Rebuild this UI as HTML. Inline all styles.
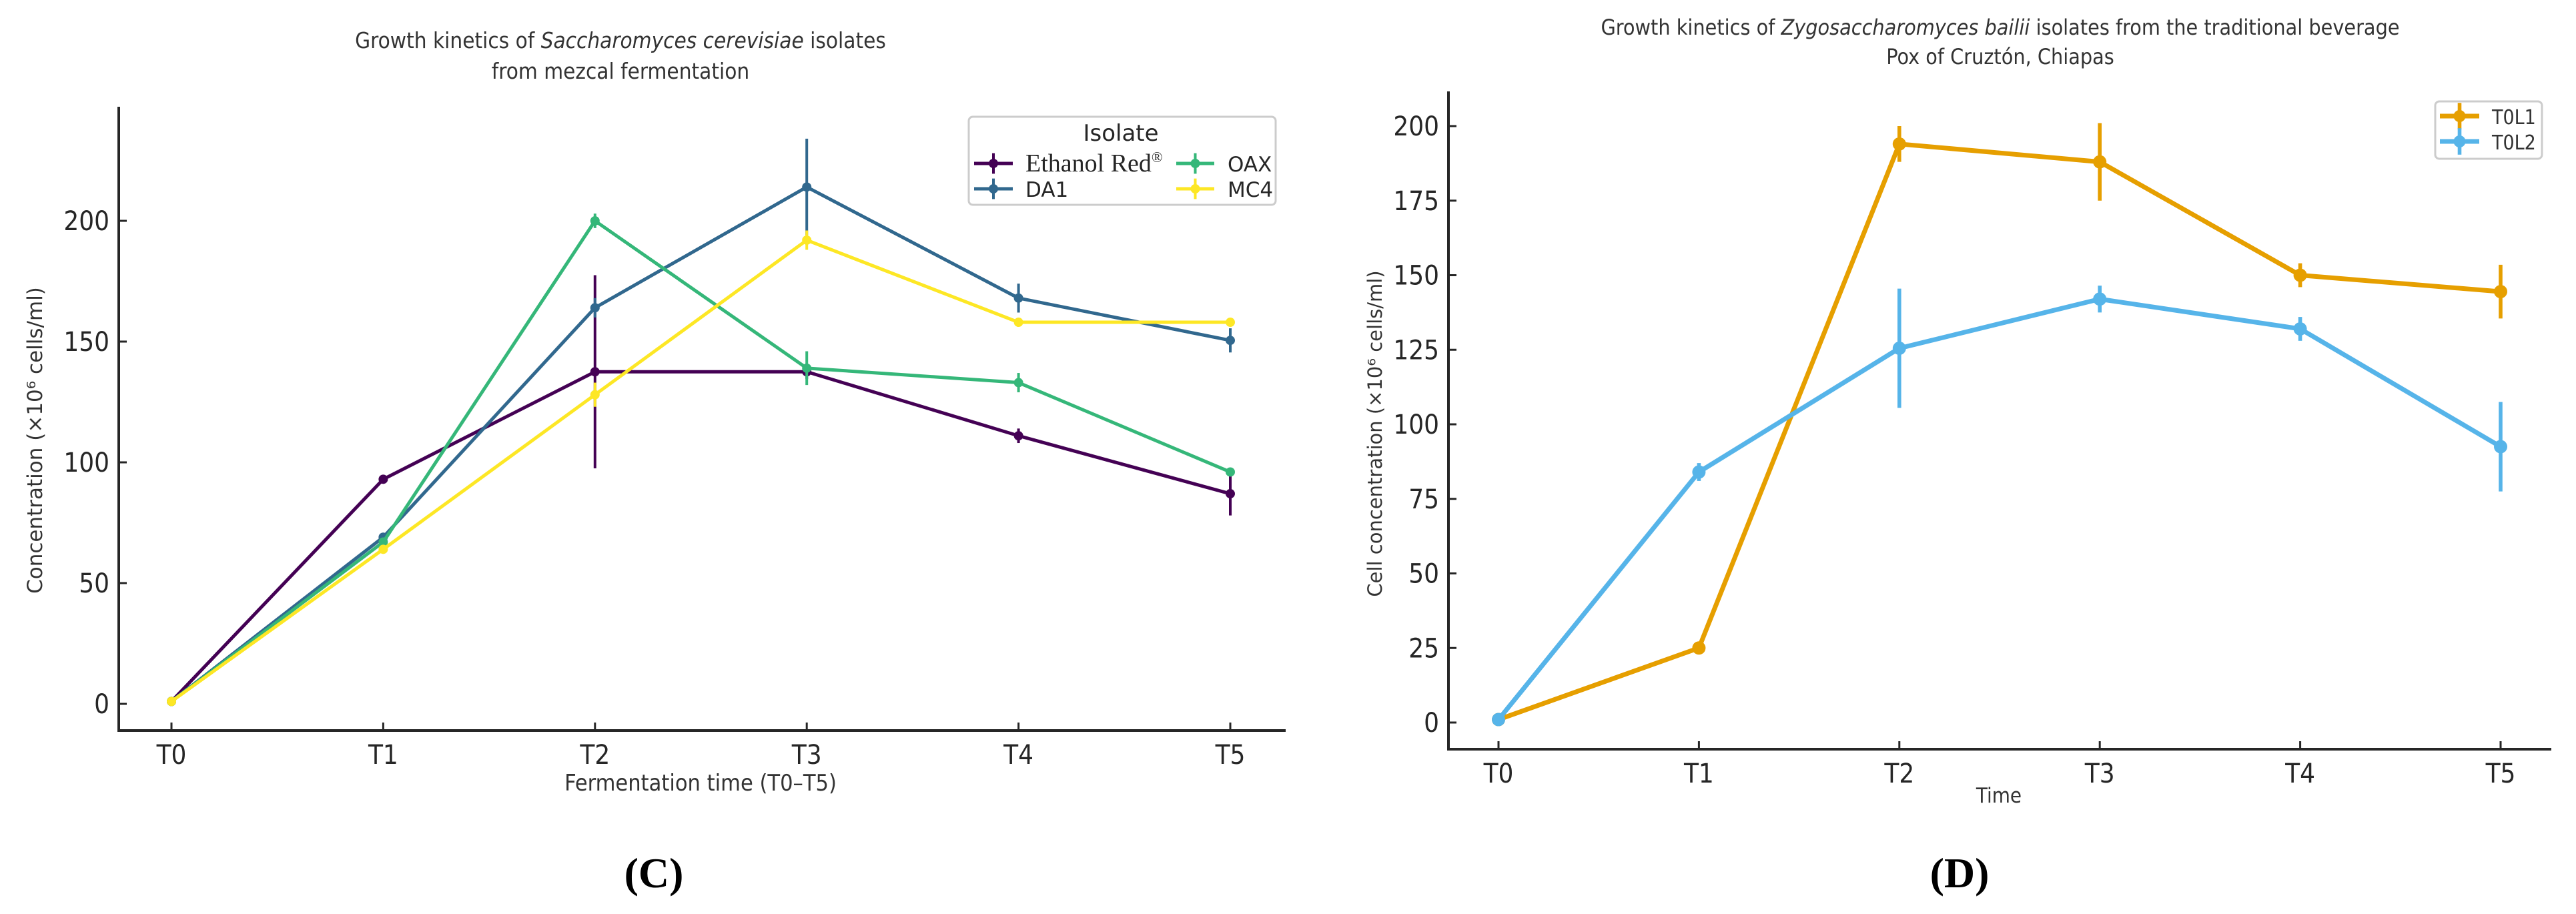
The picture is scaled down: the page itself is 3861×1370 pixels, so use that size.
<!DOCTYPE html>
<html><head><meta charset="utf-8"><style>
html,body{margin:0;padding:0;background:#fff}
svg{display:block;font-family:"DejaVu Sans","Liberation Sans",sans-serif}
.tk{font-family:"DejaVu Sans Condensed","Liberation Sans Narrow","Liberation Sans",sans-serif;font-size:40px;fill:#262626}
.cond{font-family:"DejaVu Sans Condensed","Liberation Sans Narrow","Liberation Sans",sans-serif;fill:#333}
.serif{font-family:"Liberation Serif",serif}
</style></head><body>
<svg id="fig" width="3861" height="1370" viewBox="0 0 3861 1370" xmlns="http://www.w3.org/2000/svg" fill="#262626">
<g id="chartC">
<text class="cond" x="930" y="72" text-anchor="middle" font-size="33">Growth kinetics of <tspan font-style="italic">Saccharomyces cerevisiae</tspan> isolates</text>
<text class="cond" x="930" y="118" text-anchor="middle" font-size="33">from mezcal fermentation</text>
<line x1="178" y1="160" x2="178" y2="1096" stroke="#262626" stroke-width="4"/>
<line x1="176" y1="1095" x2="1927" y2="1095" stroke="#262626" stroke-width="4"/>
<text class="cond" x="1050" y="1185" text-anchor="middle" font-size="34">Fermentation time (T0–T5)</text>
<text transform="translate(63,660) rotate(-90)" text-anchor="middle" font-size="31" fill="#333">Concentration (×10⁶ cells/ml)</text>
<g id="cLegend">
<rect x="1452" y="175" width="460" height="132" rx="6" fill="#fff" stroke="#ccc" stroke-width="3"/>
<text x="1680" y="211" text-anchor="middle" font-size="34">Isolate</text>
</g>
<text class="serif" x="980" y="1330" text-anchor="middle" font-size="64" font-weight="bold" fill="#000">(C)</text>
</g>
<g id="chartD">
<text class="cond" x="2998" y="52" text-anchor="middle" font-size="32">Growth kinetics of <tspan font-style="italic">Zygosaccharomyces bailii</tspan> isolates from the traditional beverage</text>
<text class="cond" x="2998" y="96" text-anchor="middle" font-size="32">Pox of Cruztón, Chiapas</text>
<line x1="2171" y1="137" x2="2171" y2="1124" stroke="#262626" stroke-width="4"/>
<line x1="2169" y1="1123" x2="3824" y2="1123" stroke="#262626" stroke-width="4"/>
<text class="cond" x="2996" y="1203" text-anchor="middle" font-size="31">Time</text>
<text transform="translate(2071,650) rotate(-90)" text-anchor="middle" font-size="29" fill="#333">Cell concentration (×10⁶ cells/ml)</text>
<g id="dLegend">
<rect x="3650" y="152" width="160" height="86" rx="6" fill="#fff" stroke="#ccc" stroke-width="3"/>
</g>
<text class="serif" x="2937" y="1330" text-anchor="middle" font-size="64" font-weight="bold" fill="#000">(D)</text>
</g>
</svg>
<script>
const cCategories = ["T0","T1","T2","T3","T4","T5"];
const cYTicks = [0,50,100,150,200];
const cNames = ["Ethanol Red","DA1","OAX","MC4"];
const ethanolRed = [1,93,137.5,137.5,111,87];
const ethanolRedErr = [0,1.5,40,3,3,9];
const da1 = [1,69,164,214,168,150.5];
const da1Err = [0,1,4,20,6,5];
const oax = [1,67,200,139,133,96];
const oaxErr = [0,1,3,7,4,1];
const mc4 = [1,64,128,192,158,158];
const mc4Err = [0,1,5,4,1,1];

const dCategories = ["T0","T1","T2","T3","T4","T5"];
const dYTicks = [0,25,50,75,100,125,150,175,200];
const dNames = ["T0L1","T0L2"];
const t0l1 = [1,25,194,188,150,144.5];
const t0l1Err = [0,1,6,13,4,9];
const t0l2 = [1,84,125.5,142,132,92.5];
const t0l2Err = [0,3,20,4.5,4,15];

const NS="http://www.w3.org/2000/svg";
function mk(tag,attrs,parent){const e=document.createElementNS(NS,tag);for(const k in attrs)e.setAttribute(k,attrs[k]);parent.appendChild(e);return e;}

const cx=i=>257+i*(1844-257)/5;
const cy=v=>1055-(1055-331)/200*v;
const dx=i=>2246+i*(3748-2246)/5;
const dy=v=>1083-(1083-189)/200*v;

function axes(g,cats,ticks,xf,yf,axX,axY){
  cats.forEach((c,i)=>{
    const t=mk('line',{x1:xf(i),x2:xf(i),y1:axY,y2:axY-12,stroke:'#262626','stroke-width':3},g);
    
    
    const l=mk('text',{x:xf(i),y:axY+50,'text-anchor':'middle',class:'tk'},g);
    l.textContent=c;
    
    
  });
  ticks.forEach(v=>{
    const t=mk('line',{x1:axX,x2:axX+12,y1:yf(v),y2:yf(v),stroke:'#262626','stroke-width':3},g);
    
    
    const l=mk('text',{x:axX-14,y:yf(v)+14,'text-anchor':'end',class:'tk'},g);
    l.textContent=v;
    
    
  });
}
function series(g,name,vals,errs,color,xf,yf,lw,r){
  const sg=mk('g',{},g);
  
  
  const pts=vals.map((v,i)=>xf(i)+','+yf(v)).join(' ');
  const pl=mk('polyline',{points:pts,fill:'none',stroke:color,'stroke-width':lw,'stroke-linejoin':'round'},sg);
  
  
  vals.forEach((v,i)=>{
    if(errs[i]>0){
      const e=mk('line',{x1:xf(i),x2:xf(i),y1:yf(v-errs[i]),y2:yf(v+errs[i]),stroke:color,'stroke-width':lw*0.8},sg);
      
      
    }
    const p=mk('circle',{cx:xf(i),cy:yf(v),r:r,fill:color},sg);
    
    
  });
}
function legendEntry(g,x1,x2,y,color,label,lw,r,tx,fs,cls){
  const eg=mk('g',{},g);
  
  
  mk('line',{x1:x1,x2:x2,y1:y,y2:y,stroke:color,'stroke-width':lw},eg);
  const m=(x1+x2)/2;
  mk('line',{x1:m,x2:m,y1:y-r*2.2,y2:y+r*2.2,stroke:color,'stroke-width':lw*0.8},eg);
  mk('circle',{cx:m,cy:y,r:r,fill:color},eg);
  const t=mk('text',{x:tx,y:y+12,'font-size':fs},eg);
  if(cls)t.setAttribute('class',cls);
  t.innerHTML=label;
}

const gC=document.getElementById('chartC');
axes(gC,cCategories,cYTicks,cx,cy,178,1095);
const cCols=['#440154','#31688e','#35b779','#fde725'];
[[ethanolRed,ethanolRedErr],[da1,da1Err],[oax,oaxErr],[mc4,mc4Err]].forEach((s,k)=>series(gC,cNames[k],s[0],s[1],cCols[k],cx,cy,5,7));
const lc=document.getElementById('cLegend');
legendEntry(lc,1460,1518,245,cCols[0],'Ethanol Red<tspan font-size="22" dy="-14">®</tspan>',5,7,1537,38,'serif');
legendEntry(lc,1460,1518,283,cCols[1],'DA1',5,7,1537,31);
legendEntry(lc,1763,1820,245,cCols[2],'OAX',5,7,1840,31);
legendEntry(lc,1763,1820,283,cCols[3],'MC4',5,7,1840,31);

const gD=document.getElementById('chartD');
axes(gD,dCategories,dYTicks,dx,dy,2171,1123);
const dCols=['#e69f00','#56b4e9'];
series(gD,dNames[0],t0l1,t0l1Err,dCols[0],dx,dy,7,10);
series(gD,dNames[1],t0l2,t0l2Err,dCols[1],dx,dy,7,10);
const ld=document.getElementById('dLegend');
legendEntry(ld,3657,3716,174,dCols[0],'T0L1',7,9,3735,30,'cond');
legendEntry(ld,3657,3716,212,dCols[1],'T0L2',7,9,3735,30,'cond');
</script>
</body></html>
